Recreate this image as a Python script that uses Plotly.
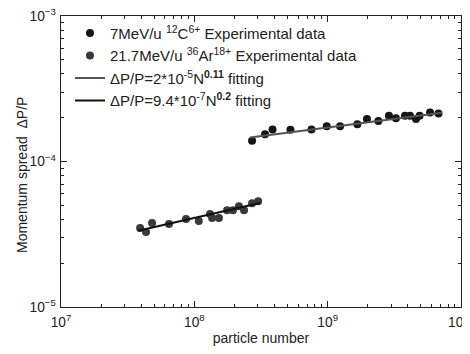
import plotly.graph_objects as go

# 7MeV/u 12C6+ experimental data
c_n = [2.71e8, 3.39e8, 3.86e8, 5.26e8, 7.56e8, 9.84e8, 1.24e9, 1.67e9, 1.97e9,
       2.40e9, 2.88e9, 3.25e9, 3.80e9, 4.15e9, 4.60e9, 4.89e9, 5.86e9, 6.78e9]
c_dp = [1.39e-4, 1.54e-4, 1.66e-4, 1.65e-4, 1.66e-4, 1.75e-4, 1.75e-4, 1.80e-4, 1.96e-4,
        1.90e-4, 2.06e-4, 1.98e-4, 2.06e-4, 2.06e-4, 1.96e-4, 2.06e-4, 2.17e-4, 2.14e-4]

# 21.7MeV/u 36Ar18+ experimental data
ar_n = [3.92e7, 4.34e7, 4.82e7, 6.46e7, 8.66e7, 1.08e8, 1.31e8, 1.36e8, 1.53e8,
        1.76e8, 1.95e8, 2.16e8, 2.36e8, 2.71e8, 3.01e8]
ar_dp = [3.49e-5, 3.28e-5, 3.78e-5, 3.72e-5, 4.03e-5, 3.90e-5, 4.35e-5, 4.09e-5, 4.09e-5,
         4.63e-5, 4.63e-5, 4.93e-5, 4.63e-5, 5.17e-5, 5.34e-5]

# fitting lines (endpoints)
fit_c_n = [2.62e8, 7.20e9]
fit_c_dp = [1.46e-4, 2.16e-4]
fit_ar_n = [3.78e7, 3.11e8]
fit_ar_dp = [3.34e-5, 5.19e-5]

FONT = "Liberation Sans, Arial, sans-serif"

fig = go.Figure()
fig.add_trace(go.Scatter(x=c_n, y=c_dp, mode="markers",
                         marker=dict(color="#151515", size=8),
                         name="7MeV/u <sup>12</sup>C<sup>6+</sup> Experimental data"))
fig.add_trace(go.Scatter(x=ar_n, y=ar_dp, mode="markers",
                         marker=dict(color="#3a3a3a", size=8),
                         name="21.7MeV/u <sup>36</sup>Ar<sup>18+</sup> Experimental data"))
fig.add_trace(go.Scatter(x=fit_c_n, y=fit_c_dp, mode="lines",
                         line=dict(color="#555555", width=2),
                         name="ΔP/P=2*10<sup>-5</sup>N<sup><b>0.11</b></sup> fitting"))
fig.add_trace(go.Scatter(x=fit_ar_n, y=fit_ar_dp, mode="lines",
                         line=dict(color="#111111", width=2),
                         name="ΔP/P=9.4*10<sup>-7</sup>N<sup><b>0.2</b></sup> fitting"))

axis_common = dict(
    type="log", showgrid=False, zeroline=False, automargin=False,
    showline=True, linecolor="#222", linewidth=1, mirror="allticks",
    ticks="inside", ticklen=6, tickcolor="#222", tickwidth=1,
    dtick=1, exponentformat="power", ticklabeloverflow="allow",
    tickfont=dict(family=FONT, size=11, color="#222"),
    minor=dict(ticks="inside", ticklen=3, tickcolor="#222", dtick="D1", showgrid=False),
)

fig.update_xaxes(**axis_common, range=[7, 10], ticklabelstandoff=3,
                 title=dict(text="particle number", standoff=4,
                            font=dict(family=FONT, size=14, color="#222")))
fig.update_yaxes(**axis_common, range=[-5, -3], ticklabelstandoff=2)

fig.add_annotation(text="Momentum spread  ΔP/P", xref="paper", yref="paper",
                   x=-0.0975, y=0.4536, textangle=-90, showarrow=False,
                   xanchor="center", yanchor="middle",
                   font=dict(family=FONT, size=14, color="#222"))

fig.update_layout(
    width=462, height=346,
    margin=dict(l=53, r=9, t=8, b=47),
    paper_bgcolor="white", plot_bgcolor="white",
    font=dict(family=FONT, color="#222"),
    legend=dict(x=0.0225, y=0.997, xanchor="left", yanchor="top",
                bgcolor="rgba(0,0,0,0)", borderwidth=0,
                font=dict(size=15, color="#222"), tracegroupgap=0),
)

fig.write_html("out.html")
